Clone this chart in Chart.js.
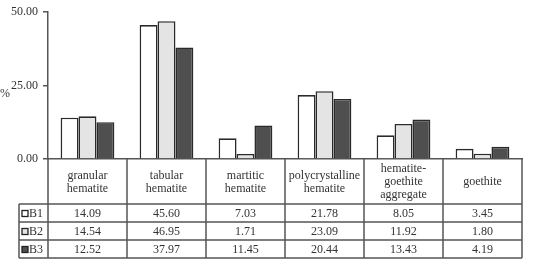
<!DOCTYPE html>
<html>
<head>
<meta charset="utf-8">
<script src="https://cdn.jsdelivr.net/npm/chart.js@4"></script>
<style>
  html, body { margin: 0; padding: 0; background: #fff; }
  #wrap { width: 535px; height: 259px; }
</style>
</head>
<body>
<div id="wrap"><canvas id="chart" width="535" height="259"></canvas></div>
<script>
// categories (header row of the table)
const categories = [
  ['granular', 'hematite'],
  ['tabular', 'hematite'],
  ['martitic', 'hematite'],
  ['polycrystalline', 'hematite'],
  ['hematite-', 'goethite', 'aggregate'],
  ['goethite']
];

// series values (%)
const b1 = [14.09, 45.60, 7.03, 21.78, 8.05, 3.45];
const b2 = [14.54, 46.95, 1.71, 23.09, 11.92, 1.80];
const b3 = [12.52, 37.97, 11.45, 20.44, 13.43, 4.19];

const seriesNames = ['B1', 'B2', 'B3'];
const yTicks = [0, 25, 50];

const FONT = "'Liberation Serif', 'Times New Roman', serif";
const TEXT = '#333';
const LINE = '#555';
const fills = ['#ffffff', '#e4e4e4', '#4f4f4f'];

// draws the data table under the plot + the "%" label
const tablePlugin = {
  id: 'dataTable',
  afterDraw(chart) {
    const ctx = chart.ctx;
    const xs = chart.scales.x;
    const area = chart.chartArea;
    const n = categories.length;
    const colW = xs.width / n;
    const left = area.left, right = area.right;
    const top = area.bottom + 1;
    const headBottom = 204;
    const rowLines = [headBottom, 222, 240, 258];
    const legendLeft = 19;

    ctx.save();
    ctx.strokeStyle = LINE;
    ctx.lineWidth = 1.5;

    // horizontal lines
    ctx.beginPath();
    rowLines.forEach(y => { ctx.moveTo(legendLeft, y); ctx.lineTo(right, y); });
    ctx.stroke();

    // vertical lines
    ctx.beginPath();
    for (let i = 0; i <= n; i++) {
      const x = left + i * colW;
      ctx.moveTo(x, area.bottom); ctx.lineTo(x, rowLines[3]);
    }
    ctx.moveTo(legendLeft, headBottom); ctx.lineTo(legendLeft, rowLines[3]);
    ctx.stroke();

    ctx.fillStyle = TEXT;
    ctx.font = '12px ' + FONT;
    ctx.textAlign = 'center';
    ctx.textBaseline = 'middle';

    // header labels
    categories.forEach((lines, i) => {
      const cx = xs.getPixelForValue(i);
      const cy = (top + headBottom) / 2;
      const lh = 13;
      lines.forEach((t, k) => {
        ctx.fillText(t, cx, cy + (k - (lines.length - 1) / 2) * lh);
      });
    });

    // value rows
    const series = [b1, b2, b3];
    series.forEach((vals, r) => {
      const cy = (rowLines[r] + rowLines[r + 1]) / 2 + 0.5;
      ctx.textAlign = 'center';
      vals.forEach((v, i) => {
        ctx.fillText(v.toFixed(2), xs.getPixelForValue(i), cy);
      });
      // legend cell
      ctx.fillStyle = fills[r];
      ctx.fillRect(22, cy - 3, 6, 6);
      ctx.strokeStyle = '#222';
      ctx.lineWidth = 1.3;
      ctx.strokeRect(22, cy - 3, 6, 6);
      ctx.fillStyle = TEXT;
      ctx.textAlign = 'left';
      ctx.fillText(seriesNames[r], 29, cy);
    });

    // axis unit
    ctx.textAlign = 'left';
    ctx.fillText('%', 0, 94);
    ctx.restore();
  }
};

const barStyle = (data, i) => ({
  label: seriesNames[i],
  data: data,
  backgroundColor: fills[i],
  borderColor: '#2a2a2a',
  borderWidth: 1.6,
  borderSkipped: 'bottom',
  categoryPercentage: 0.68,
  barPercentage: 1.0
});

new Chart(document.getElementById('chart'), {
  type: 'bar',
  data: {
    labels: categories.map(c => c.join(' ')),
    datasets: [b1, b2, b3].map(barStyle)
  },
  options: {
    responsive: false,
    animation: false,
    layout: { padding: { top: 7, right: 13, bottom: 100, left: 0 } },
    plugins: { legend: { display: false }, tooltip: { enabled: false } },
    scales: {
      x: {
        ticks: { display: false },
        grid: { display: false },
        border: { display: true, color: LINE, width: 1.5 },
        afterFit: s => { s.height = 0; }
      },
      y: {
        min: 0,
        max: 50,
        afterBuildTicks: s => { s.ticks = yTicks.map(v => ({ value: v })); },
        afterFit: s => { s.width = 48; },
        ticks: {
          color: TEXT,
          font: { family: FONT, size: 12 },
          padding: 5,
          callback: v => Number(v).toFixed(2)
        },
        grid: { drawOnChartArea: false, drawTicks: true, tickLength: 5, color: LINE, lineWidth: 1.5 },
        border: { color: LINE, width: 1.5 }
      }
    }
  },
  plugins: [tablePlugin]
});
</script>
</body>
</html>
